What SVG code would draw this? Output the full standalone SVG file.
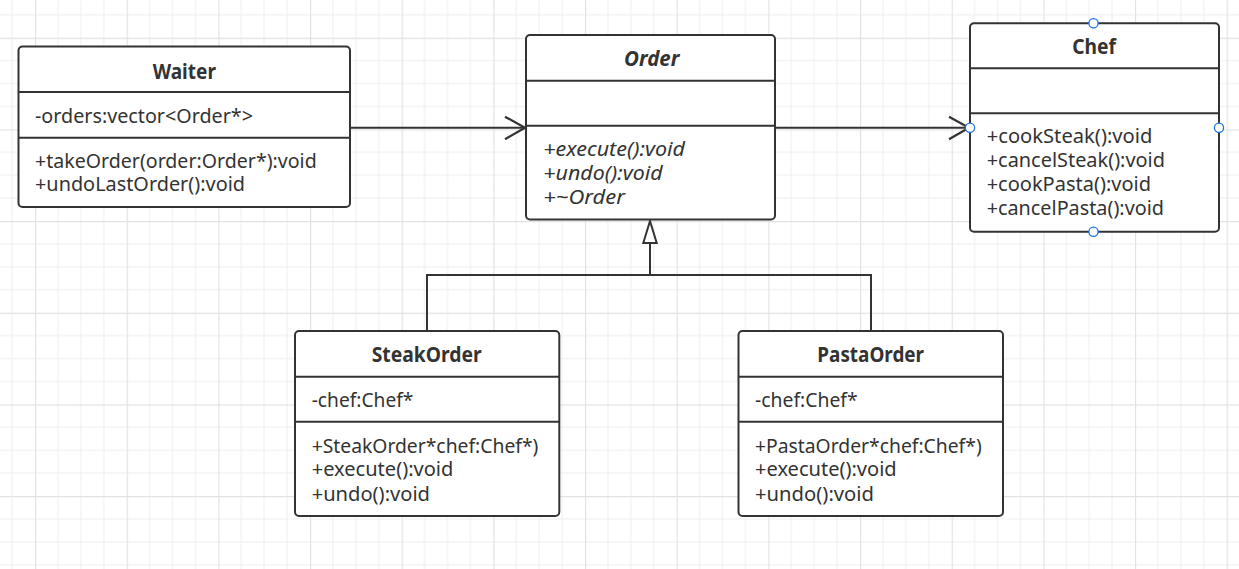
<svg xmlns="http://www.w3.org/2000/svg" width="1239" height="569" viewBox="0 0 1239 569">
<style>
.box{fill:#ffffff;stroke:#333333;stroke-width:2}
.div{stroke:#333333;stroke-width:2}
.t{font-family:"Noto Sans","Liberation Sans",sans-serif;font-size:19px;fill:#333333}
.title{font-weight:bold;text-anchor:middle;font-size:20.5px}
.it{font-style:italic}
.conn{fill:none;stroke:#333333;stroke-width:2}
.handle{fill:#ffffff;stroke:#1a73e8;stroke-width:1.3}
</style>
<defs>
<pattern id="grid" patternUnits="userSpaceOnUse" x="35" y="37.67" width="91.667" height="91.667">
<path d="M22.92 0V91.667M45.83 0V91.667M68.75 0V91.667M0 22.92H91.667M0 45.83H91.667M0 68.75H91.667" stroke="#eeeeee" stroke-width="1" fill="none"/>
<path d="M0.5 0V91.667M0 0.5H91.667" stroke="#e2e2e2" stroke-width="1.3" fill="none"/>
</pattern>
<marker id="open" markerUnits="userSpaceOnUse" markerWidth="30" markerHeight="30" refX="23" refY="12.5" orient="auto">
<path d="M3 1.5L23 12.5L3 24" fill="none" stroke="#333333" stroke-width="2.2"/>
</marker>
<marker id="tri" markerUnits="userSpaceOnUse" markerWidth="30" markerHeight="20" refX="24" refY="8" orient="auto">
<path d="M2 1.3L24 8L2 14.7Z" fill="#ffffff" stroke="#333333" stroke-width="2"/>
</marker>
</defs>
<rect width="1239" height="569" fill="#ffffff"/>
<rect width="1239" height="569" fill="url(#grid)"/>

<g id="connectors">
<path class="conn" d="M350 127.7H525" marker-end="url(#open)"/>
<path class="conn" d="M775 127.7H969" marker-end="url(#open)"/>
<path class="conn" d="M427 331V275H871V331"/>
<path class="conn" d="M650 275V221" marker-end="url(#tri)"/>
</g>

<g id="Waiter">
<rect class="box" x="18.5" y="46.5" width="331.5" height="160.5" rx="4"/>
<line class="div" x1="18.5" y1="92" x2="350" y2="92"/>
<line class="div" x1="18.5" y1="137.7" x2="350" y2="137.7"/>
<text class="t title" x="184.3" y="79" textLength="63.3" lengthAdjust="spacingAndGlyphs">Waiter</text>
<text class="t" x="35" y="122.7" textLength="218" lengthAdjust="spacingAndGlyphs">-orders:vector&lt;Order*&gt;</text>
<text class="t" x="35" y="167.5" textLength="281.7" lengthAdjust="spacingAndGlyphs">+takeOrder(order:Order*):void</text>
<text class="t" x="35" y="191" textLength="210" lengthAdjust="spacingAndGlyphs">+undoLastOrder():void</text>
</g>

<g id="Order">
<rect class="box" x="526" y="35" width="249" height="184.5" rx="4"/>
<line class="div" x1="526" y1="80.7" x2="775" y2="80.7"/>
<line class="div" x1="526" y1="125.7" x2="775" y2="125.7"/>
<text class="t title it" x="651.7" y="66" textLength="55.3" lengthAdjust="spacingAndGlyphs">Order</text>
<text class="t it" x="543.3" y="156" textLength="141.7" lengthAdjust="spacingAndGlyphs">+execute():void</text>
<text class="t it" x="543.3" y="180.2" textLength="119.3" lengthAdjust="spacingAndGlyphs">+undo():void</text>
<text class="t it" x="543.3" y="204.3" textLength="81.7" lengthAdjust="spacingAndGlyphs">+~Order</text>
</g>

<g id="Chef">
<rect class="box" x="970" y="23.3" width="249" height="208.4" rx="4"/>
<line class="div" x1="970" y1="68.3" x2="1219" y2="68.3"/>
<line class="div" x1="970" y1="113.3" x2="1219" y2="113.3"/>
<text class="t title" x="1094" y="54" textLength="43.7" lengthAdjust="spacingAndGlyphs">Chef</text>
<text class="t" x="986.7" y="142.7" textLength="165.7" lengthAdjust="spacingAndGlyphs">+cookSteak():void</text>
<text class="t" x="986.7" y="166.8" textLength="178.3" lengthAdjust="spacingAndGlyphs">+cancelSteak():void</text>
<text class="t" x="986.7" y="191" textLength="164.3" lengthAdjust="spacingAndGlyphs">+cookPasta():void</text>
<text class="t" x="986.7" y="215" textLength="177.3" lengthAdjust="spacingAndGlyphs">+cancelPasta():void</text>
<circle class="handle" cx="1093.5" cy="23.3" r="4.6"/>
<circle class="handle" cx="970" cy="127.7" r="4.6"/>
<circle class="handle" cx="1219" cy="127.7" r="4.6"/>
<circle class="handle" cx="1093.5" cy="231.7" r="4.6"/>
</g>

<g id="SteakOrder">
<rect class="box" x="295" y="331" width="264.3" height="185" rx="4"/>
<line class="div" x1="295" y1="376.7" x2="559.3" y2="376.7"/>
<line class="div" x1="295" y1="421.7" x2="559.3" y2="421.7"/>
<text class="t title" x="426.7" y="361.7" textLength="110" lengthAdjust="spacingAndGlyphs">SteakOrder</text>
<text class="t" x="311.7" y="406.7" textLength="101.7" lengthAdjust="spacingAndGlyphs">-chef:Chef*</text>
<text class="t" x="311.7" y="452.5" textLength="226.7" lengthAdjust="spacingAndGlyphs">+SteakOrder*chef:Chef*)</text>
<text class="t" x="311.7" y="476.3" textLength="141.7" lengthAdjust="spacingAndGlyphs">+execute():void</text>
<text class="t" x="311.7" y="500.7" textLength="118.3" lengthAdjust="spacingAndGlyphs">+undo():void</text>
</g>

<g id="PastaOrder">
<rect class="box" x="738.5" y="331" width="264.5" height="185" rx="4"/>
<line class="div" x1="738.5" y1="376.7" x2="1003" y2="376.7"/>
<line class="div" x1="738.5" y1="421.7" x2="1003" y2="421.7"/>
<text class="t title" x="870.7" y="361.7" textLength="106.7" lengthAdjust="spacingAndGlyphs">PastaOrder</text>
<text class="t" x="755" y="406.7" textLength="102.7" lengthAdjust="spacingAndGlyphs">-chef:Chef*</text>
<text class="t" x="755" y="452.5" textLength="226.7" lengthAdjust="spacingAndGlyphs">+PastaOrder*chef:Chef*)</text>
<text class="t" x="755" y="476.3" textLength="141.7" lengthAdjust="spacingAndGlyphs">+execute():void</text>
<text class="t" x="755" y="500.7" textLength="119" lengthAdjust="spacingAndGlyphs">+undo():void</text>
</g>
</svg>
